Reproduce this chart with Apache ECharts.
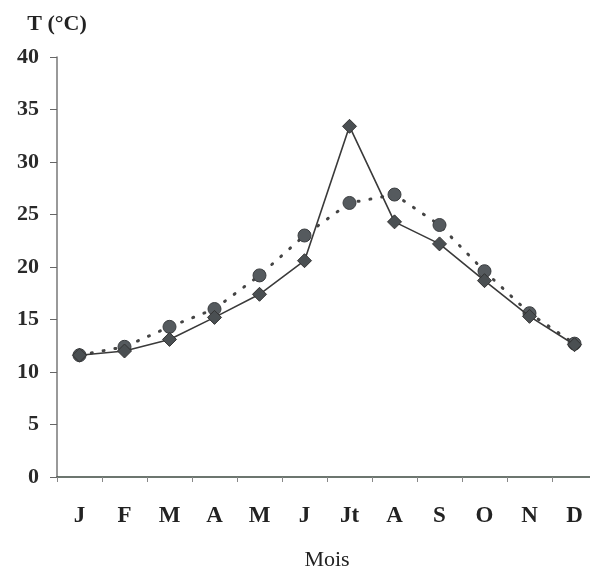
<!DOCTYPE html>
<html>
<head>
<meta charset="utf-8">
<script src="https://cdn.jsdelivr.net/npm/echarts@6/dist/echarts.min.js"></script>
<style>
  html, body { margin: 0; padding: 0; background: #fff; }
  #chart { width: 590px; height: 572px; }
</style>
</head>
<body>
<div id="chart"></div>
<script>
// Monthly temperatures (°C)
const months = ['J', 'F', 'M', 'A', 'M', 'J', 'Jt', 'A', 'S', 'O', 'N', 'D'];
const seriesSolid = [11.6, 12.0, 13.1, 15.2, 17.4, 20.6, 33.4, 24.3, 22.2, 18.7, 15.3, 12.6];
const seriesDotted = [11.6, 12.4, 14.3, 16.0, 19.2, 23.0, 26.1, 26.9, 24.0, 19.6, 15.6, 12.7];
const yTicks = [0, 5, 10, 15, 20, 25, 30, 35, 40];

const serif = '"Liberation Serif", "DejaVu Serif", serif';
const chart = echarts.init(document.getElementById('chart'));

chart.setOption({
  animation: false,
  backgroundColor: '#fff',
  grid: { left: 57, top: 57, width: 540, height: 420, outerBoundsMode: 'none', containLabel: false },
  xAxis: {
    type: 'category',
    data: months,
    boundaryGap: true,
    name: 'Mois',
    nameLocation: 'middle',
    nameGap: 72,
    nameTextStyle: { fontFamily: serif, fontSize: 22, color: '#222' },
    axisLine: { lineStyle: { color: '#3d4a40', width: 1.5 } },
    axisTick: { show: true, length: 5, lineStyle: { color: '#888' } },
    axisLabel: { fontFamily: serif, fontSize: 23, fontWeight: 'bold', color: '#222', margin: 28 },
    splitLine: { show: false }
  },
  yAxis: {
    type: 'value',
    min: yTicks[0],
    max: yTicks[yTicks.length - 1],
    interval: 5,
    name: 'T (°C)',
    nameLocation: 'end',
    nameGap: 22,
    nameTextStyle: { fontFamily: serif, fontSize: 22, fontWeight: 'bold', color: '#222', align: 'center' },
    axisLine: { show: true, lineStyle: { color: '#777', width: 1.5 } },
    axisTick: { show: true, length: 7, lineStyle: { color: '#666' } },
    axisLabel: { fontFamily: serif, fontSize: 22, fontWeight: 'bold', color: '#2a2a2a', margin: 18 },
    splitLine: { show: false }
  },
  series: [
    {
      type: 'line',
      data: seriesDotted,
      symbol: 'circle',
      symbolSize: 13,
      itemStyle: { color: '#555a5e', borderColor: '#3a3d40', borderWidth: 1 },
      lineStyle: { color: '#444', width: 3, type: [1, 11], cap: 'round' },
      z: 2
    },
    {
      type: 'line',
      data: seriesSolid,
      symbol: 'diamond',
      symbolSize: 14,
      itemStyle: { color: '#4a4f52', borderColor: '#333', borderWidth: 1 },
      lineStyle: { color: '#3a3a3a', width: 1.6 },
      z: 3
    }
  ]
});
</script>
</body>
</html>
